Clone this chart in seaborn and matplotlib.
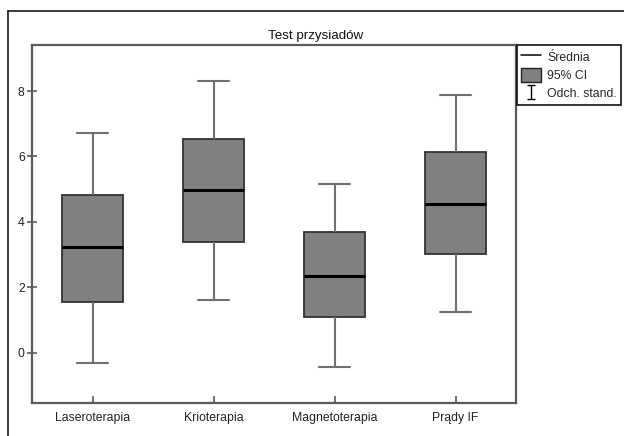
import matplotlib
matplotlib.use("Agg")
import matplotlib.pyplot as plt
from matplotlib.lines import Line2D
from matplotlib.patches import Patch
from matplotlib.path import Path
import pandas as pd
import seaborn as sns

groups = ["Laseroterapia", "Krioterapia", "Magnetoterapia", "Prądy IF"]
mean = [3.24, 4.99, 2.36, 4.55]
ci_low = [1.56, 3.40, 1.09, 3.02]
ci_high = [4.82, 6.52, 3.70, 6.15]
sd_low = [-0.31, 1.62, -0.44, 1.24]
sd_high = [6.72, 8.31, 5.16, 7.88]
y_ticks = [0, 2, 4, 6, 8]
title = "Test przysiadów"
legend_labels = ["Średnia", "95% CI", "Odch. stand."]

# Five values per group: whisker ends = mean ± SD, box = 95% CI, centre line = mean.
# With whis=(0, 100) the boxplot's quartiles/median/extremes land exactly on them.
rows = []
for g, a, b, m, c, d in zip(groups, sd_low, ci_low, mean, ci_high, sd_high):
    for v in (a, b, m, c, d):
        rows.append({"grupa": g, "wartosc": v})
df = pd.DataFrame(rows)

sns.set_theme(style="white")
plt.rcParams["font.family"] = ["Liberation Sans", "DejaVu Sans"]

W, H = 624, 436
fig = plt.figure(figsize=(W / 100, H / 100), dpi=100)
fig.patch.set_facecolor("white")
ax = fig.add_axes([32 / W, 1 - 403 / H, (516 - 32) / W, (403 - 45.5) / H])

sns.boxplot(
    data=df, x="grupa", y="wartosc", order=groups, whis=(0, 100), width=0.5,
    color="#808080", saturation=1, linecolor="#333333", linewidth=1.3,
    showfliers=False, ax=ax,
    medianprops=dict(color="black", linewidth=2.2),
    whiskerprops=dict(color="#707070", linewidth=1.5),
    capprops=dict(color="#707070", linewidth=1.5),
)

ax.set_xlim(-0.5, 3.5)
ax.set_ylim(-1.53, 9.39)
ax.set_yticks(y_ticks)
ax.set_yticklabels([str(t) for t in y_ticks])
ax.set_xlabel("")
ax.set_ylabel("")

fig.text(316 / W, 1 - 35.5 / H, title, ha="center", va="center", fontsize=9.6,
         color="#111111")

for s in ax.spines.values():
    s.set_visible(True)
    s.set_color("#5a5a5a")
    s.set_linewidth(1.6)

ax.tick_params(axis="y", direction="inout", length=6.5, width=1.2, color="#5a5a5a",
               labelsize=8.8, pad=2, left=True, labelcolor="#222222")
ax.tick_params(axis="x", direction="in", length=5, width=1.2, color="#5a5a5a",
               labelsize=8.8, pad=6.5, bottom=True, labelcolor="#222222")

# Legend symbols: mean line, CI box, SD I-beam
ibeam = Path(
    [(-0.6, -1), (0.6, -1), (0, -1), (0, 1), (-0.6, 1), (0.6, 1)],
    [Path.MOVETO, Path.LINETO, Path.MOVETO, Path.LINETO, Path.MOVETO, Path.LINETO],
)
handles = [
    Line2D([], [], color="black", lw=1.1),
    Patch(facecolor="#808080", edgecolor="#202020", lw=1),
    Line2D([], [], ls="none", marker=ibeam, markersize=10, markeredgecolor="black",
           markerfacecolor="none", mew=1.0),
]
leg = fig.legend(
    handles, legend_labels, loc="upper left",
    bbox_to_anchor=(517 / W, 1 - 45 / H), bbox_transform=fig.transFigure,
    borderaxespad=0, frameon=True, fancybox=False, fontsize=8.8,
    handlelength=1.6, handleheight=1.45, labelspacing=0.32, borderpad=0.35,
    handletextpad=0.5, framealpha=1,
)
leg.get_frame().set_edgecolor("#111111")
leg.get_frame().set_linewidth(1.2)

# Outer frame (left and top edges)
fig.add_artist(Line2D([8 / W, 8 / W], [0, 1 - 11.5 / H], transform=fig.transFigure,
                      color="#1a1a1a", lw=1.2))
fig.add_artist(Line2D([8 / W, 1], [1 - 11.5 / H, 1 - 11.5 / H], transform=fig.transFigure,
                      color="#1a1a1a", lw=1.2))

fig.savefig("out.png", dpi=100)
